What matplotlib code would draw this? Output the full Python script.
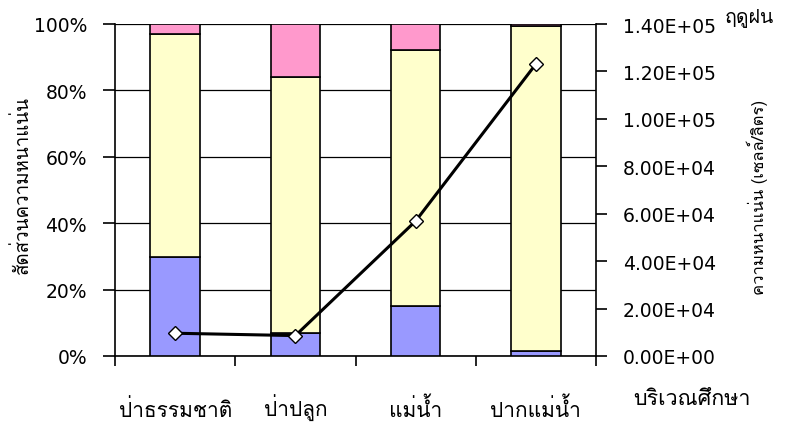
# Proportion of density per study site (stacked) with total density line, rainy season
import matplotlib
matplotlib.use("Agg")
import matplotlib.pyplot as plt
import matplotlib.transforms as mtransforms
import numpy as np
from matplotlib.ticker import FuncFormatter

sites = ["ป่าธรรมชาติ", "ป่าปลูก", "แม่น้ำ", "ปากแม่น้ำ"]
part_blue = [29.9, 6.8, 15.0, 1.4]
part_yellow = [67.1, 77.3, 77.2, 98.1]
part_pink = [3.0, 15.9, 7.8, 0.5]
density = [9.6e3, 8.6e3, 5.69e4, 1.231e5]

thai = ["Loma", "Noto Sans Thai Looped", "DejaVu Sans"]
plt.rcParams["font.family"] = ["DejaVu Sans"]

W, H = 787, 427
fig = plt.figure(figsize=(W / 100, H / 100), dpi=100)
ax = fig.add_axes([115 / W, 1 - 357 / H, 481 / W, 332 / H])

x = np.arange(len(sites))
w = 0.41
ax.bar(x, part_blue, w, color="#9999FF", edgecolor="black", linewidth=1.2, zorder=3)
ax.bar(x, part_yellow, w, bottom=part_blue, color="#FFFFCC", edgecolor="black",
       linewidth=1.2, zorder=3)
bottom2 = np.array(part_blue) + np.array(part_yellow)
ax.bar(x, part_pink, w, bottom=bottom2, color="#FF99CC", edgecolor="black",
       linewidth=1.2, zorder=3)

ax.set_xlim(-0.5, len(sites) - 0.5)
ax.set_ylim(0, 100)
ax.set_yticks(range(0, 101, 20))
ax.yaxis.set_major_formatter(FuncFormatter(lambda v, p: f"{v:.0f}%"))
ax.yaxis.grid(True, color="black", linewidth=0.9, zorder=0)
ax.set_axisbelow(True)

# ticks between categories, labels under each bar
ax.set_xticks(np.arange(-0.5, len(sites), 1.0))
ax.set_xticklabels([])
ax.tick_params(axis="x", direction="out", length=7, width=1.2)
ax.tick_params(axis="y", direction="out", length=8.6, width=1.2, labelsize=13.5, pad=11.5)

trans = mtransforms.blended_transform_factory(ax.transData, ax.transAxes)
for xi, name in zip(x, sites):
    ax.text(xi, -60 / 332, name, transform=trans, family=thai, fontsize=15,
            ha="center", va="baseline")

for s in ["left", "bottom"]:
    ax.spines[s].set_linewidth(1.2)
ax.spines["top"].set_visible(False)
ax.spines["right"].set_visible(False)

ax2 = ax.twinx()
ax2.plot(x, density, color="black", linewidth=2.2, marker="D", markersize=7,
         markerfacecolor="white", markeredgecolor="black", markeredgewidth=1, zorder=5)
ax2.set_ylim(0, 1.4e5)
ax2.set_yticks(np.arange(0, 1.41e5, 2e4))
ax2.yaxis.set_major_formatter(FuncFormatter(lambda v, p: "%.2E" % v))
ax2.tick_params(axis="y", direction="out", length=8, width=1.2, labelsize=13.5, pad=11.5)
ax2.spines["right"].set_linewidth(1.2)
for s in ["left", "top", "bottom"]:
    ax2.spines[s].set_visible(False)

fig.text(22 / W, 1 - 185 / H, "สัดส่วนความหนาแน่น", family=thai, fontsize=13.5,
         rotation=90, ha="center", va="center")
fig.text(757 / W, 1 - 197 / H, "ความหนาแน่น (เซลล์/ลิตร)", family=thai, fontsize=12,
         rotation=90, ha="center", va="center")
fig.text(633 / W, 1 - 405 / H, "บริเวณศึกษา", family=thai, fontsize=15.5,
         ha="left", va="baseline")
fig.text(725 / W, 1 - 22 / H, "ฤดูฝน", family=thai, fontsize=14,
         ha="left", va="baseline")

fig.savefig("out.png", dpi=100)
